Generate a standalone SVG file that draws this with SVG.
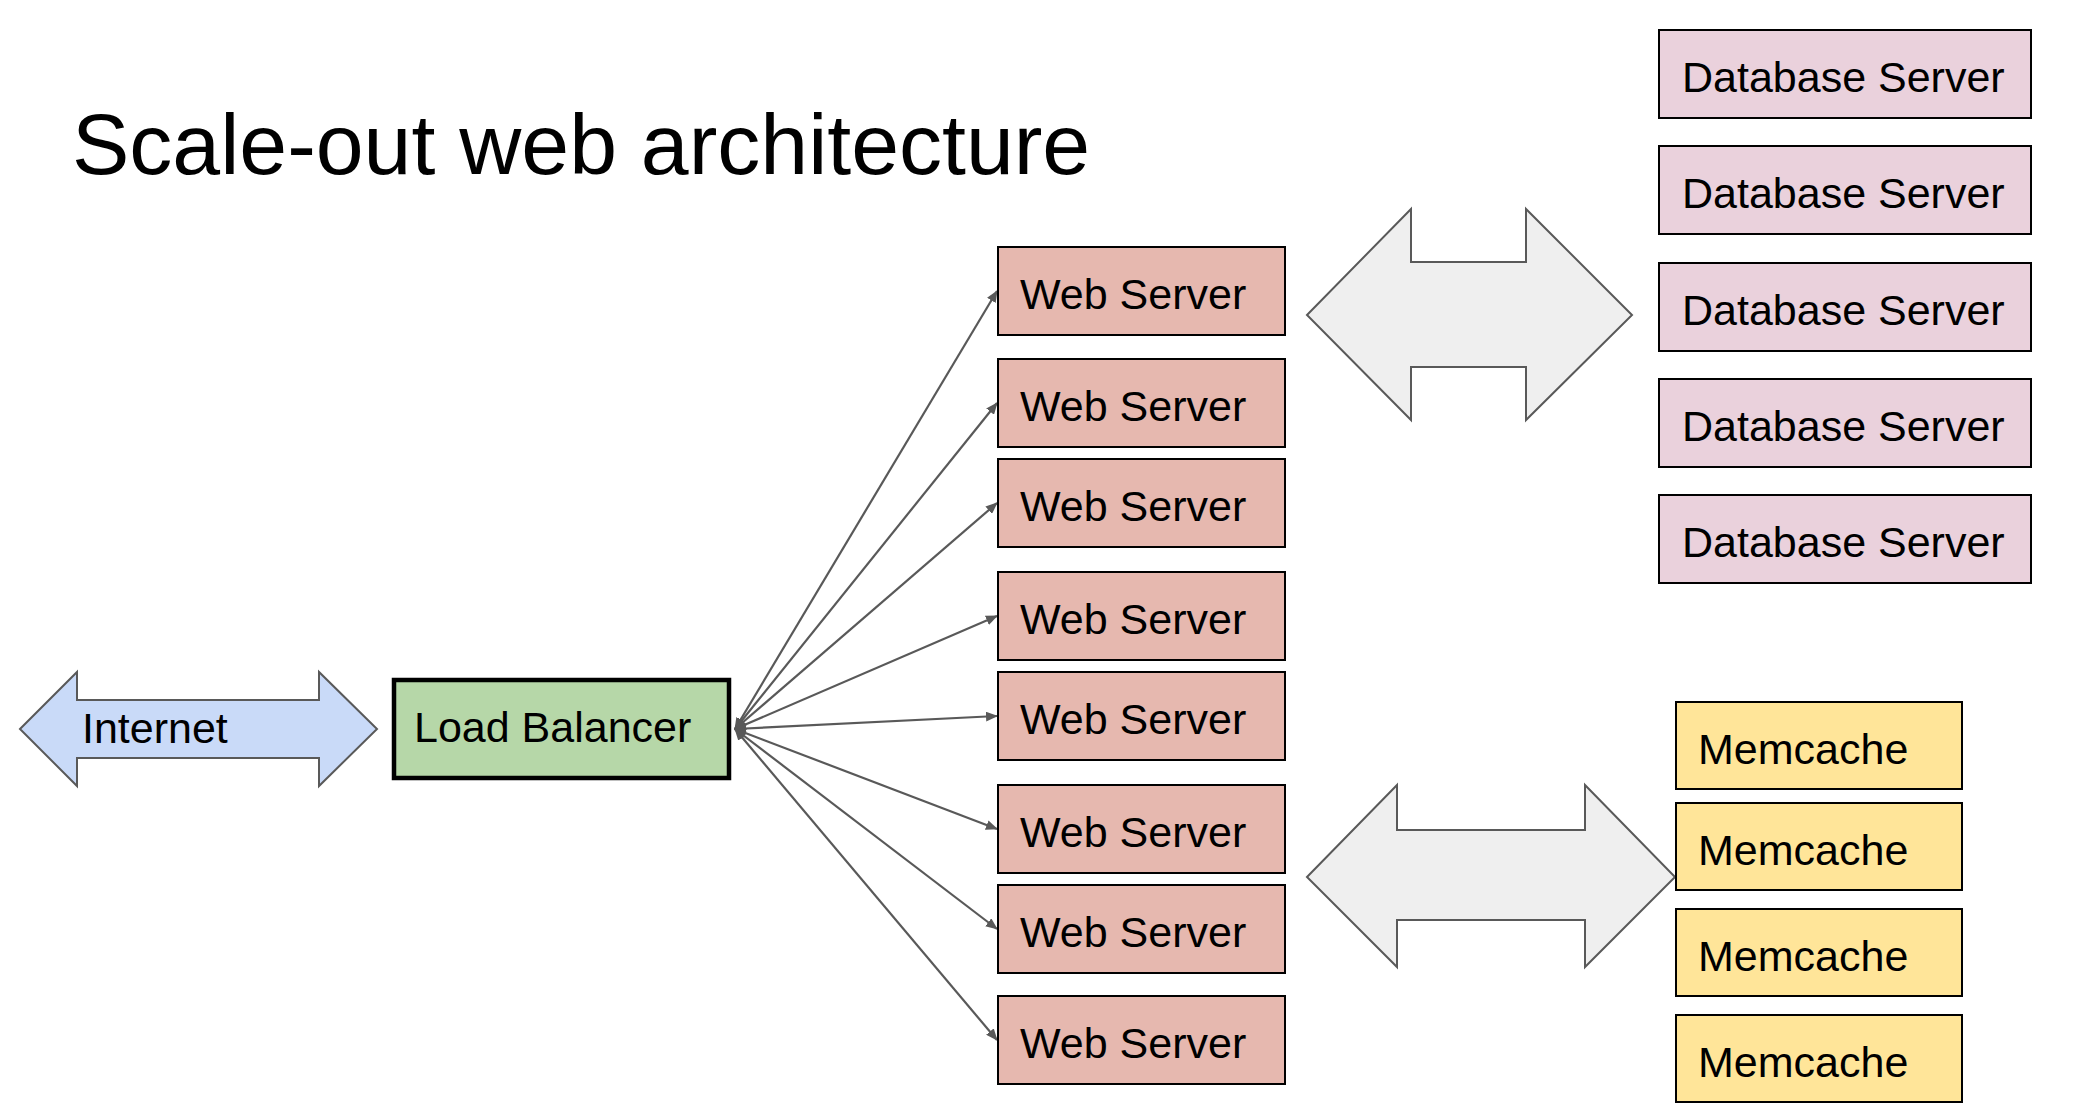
<svg xmlns="http://www.w3.org/2000/svg" width="2100" height="1118" viewBox="0 0 2100 1118">
<style>
text{font-family:"Liberation Sans",Arial,sans-serif;fill:#000}
.lbl{font-size:43px}
.title{font-size:86px}
.web{fill:#e6b8af;stroke:#000;stroke-width:2}
.db{fill:#ead1dc;stroke:#000;stroke-width:2}
.mc{fill:#ffe599;stroke:#000;stroke-width:2}
.lb{fill:#b6d7a8;stroke:#000;stroke-width:4.5}
.big{fill:#efefef;stroke:#595959;stroke-width:2;stroke-linejoin:miter}
.inet{fill:#c9daf8;stroke:#595959;stroke-width:2}
.conn{stroke:#595959;stroke-width:2.2;fill:none;marker-end:url(#ah);marker-start:url(#ah)}
</style>
<defs>
<marker id="ah" viewBox="0 0 12 10" refX="11" refY="5" markerWidth="12" markerHeight="10" markerUnits="userSpaceOnUse" orient="auto-start-reverse">
<path d="M0,0 L12,5 L0,10 z" fill="#595959"/>
</marker>
</defs>
<rect width="2100" height="1118" fill="#fff"/>
<text class="title" x="72" y="174">Scale-out web architecture</text>

<g id="connectors">
<line class="conn" x1="735" y1="729" x2="997" y2="291"/>
<line class="conn" x1="735" y1="729" x2="997" y2="403"/>
<line class="conn" x1="735" y1="729" x2="997" y2="503"/>
<line class="conn" x1="735" y1="729" x2="997" y2="616"/>
<line class="conn" x1="735" y1="729" x2="997" y2="716"/>
<line class="conn" x1="735" y1="729" x2="997" y2="829"/>
<line class="conn" x1="735" y1="729" x2="997" y2="929"/>
<line class="conn" x1="735" y1="729" x2="997" y2="1040"/>
</g>

<g id="internet">
<polygon class="inet" points="20,729 77,672 77,700 319,700 319,672 377,729 319,786 319,758 77,758 77,786"/>
<text class="lbl" x="82" y="743">Internet</text>
</g>

<g id="load-balancer">
<rect class="lb" x="394" y="680" width="335" height="98"/>
<text class="lbl" x="414" y="742">Load Balancer</text>
</g>

<g id="web1"><rect class="web" x="998" y="247" width="287" height="88"/><text class="lbl" x="1020" y="309">Web Server</text></g>
<g id="web2"><rect class="web" x="998" y="359" width="287" height="88"/><text class="lbl" x="1020" y="421">Web Server</text></g>
<g id="web3"><rect class="web" x="998" y="459" width="287" height="88"/><text class="lbl" x="1020" y="521">Web Server</text></g>
<g id="web4"><rect class="web" x="998" y="572" width="287" height="88"/><text class="lbl" x="1020" y="634">Web Server</text></g>
<g id="web5"><rect class="web" x="998" y="672" width="287" height="88"/><text class="lbl" x="1020" y="734">Web Server</text></g>
<g id="web6"><rect class="web" x="998" y="785" width="287" height="88"/><text class="lbl" x="1020" y="847">Web Server</text></g>
<g id="web7"><rect class="web" x="998" y="885" width="287" height="88"/><text class="lbl" x="1020" y="947">Web Server</text></g>
<g id="web8"><rect class="web" x="998" y="996" width="287" height="88"/><text class="lbl" x="1020" y="1058">Web Server</text></g>

<g id="db-arrow">
<polygon class="big" points="1307,315 1411,209 1411,262 1526,262 1526,209 1632,315 1526,420 1526,367 1411,367 1411,420"/>
</g>
<g id="mc-arrow">
<polygon class="big" points="1307,877 1397,785 1397,830 1585,830 1585,785 1675,877 1585,967 1585,920 1397,920 1397,967"/>
</g>

<g id="db1"><rect class="db" x="1659" y="30" width="372" height="88"/><text class="lbl" x="1682" y="92">Database Server</text></g>
<g id="db2"><rect class="db" x="1659" y="146" width="372" height="88"/><text class="lbl" x="1682" y="208">Database Server</text></g>
<g id="db3"><rect class="db" x="1659" y="263" width="372" height="88"/><text class="lbl" x="1682" y="325">Database Server</text></g>
<g id="db4"><rect class="db" x="1659" y="379" width="372" height="88"/><text class="lbl" x="1682" y="441">Database Server</text></g>
<g id="db5"><rect class="db" x="1659" y="495" width="372" height="88"/><text class="lbl" x="1682" y="557">Database Server</text></g>

<g id="mc1"><rect class="mc" x="1676" y="702" width="286" height="87"/><text class="lbl" x="1698" y="764">Memcache</text></g>
<g id="mc2"><rect class="mc" x="1676" y="803" width="286" height="87"/><text class="lbl" x="1698" y="865">Memcache</text></g>
<g id="mc3"><rect class="mc" x="1676" y="909" width="286" height="87"/><text class="lbl" x="1698" y="971">Memcache</text></g>
<g id="mc4"><rect class="mc" x="1676" y="1015" width="286" height="87"/><text class="lbl" x="1698" y="1077">Memcache</text></g>
</svg>
